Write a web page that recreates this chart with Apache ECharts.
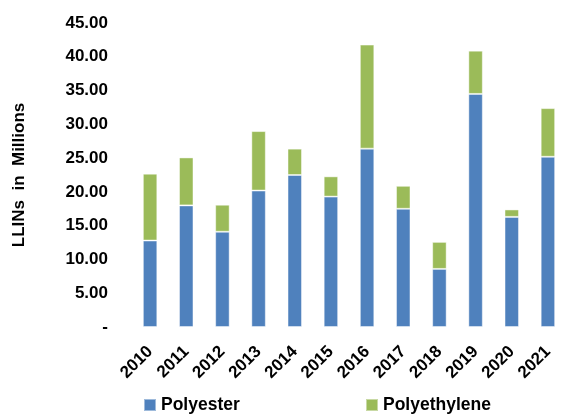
<!DOCTYPE html>
<html>
<head>
<meta charset="utf-8">
<script src="https://cdn.jsdelivr.net/npm/echarts@6/dist/echarts.min.js"></script>
<style>
  html, body { margin: 0; padding: 0; background: #fff; }
  #chart { width: 566px; height: 415px; }
</style>
</head>
<body>
<div id="chart"></div>
<script>
// LLIN deliveries by net material, millions of nets per year
const years = ['2010', '2011', '2012', '2013', '2014', '2015', '2016', '2017', '2018', '2019', '2020', '2021'];
const polyester = [12.8, 18.0, 14.1, 20.2, 22.5, 19.3, 26.4, 17.5, 8.6, 34.5, 16.3, 25.2];
const polyethylene = [9.9, 7.1, 4.0, 8.8, 3.9, 3.0, 15.4, 3.4, 4.0, 6.4, 1.1, 7.2];
const yTicks = [0, 5, 10, 15, 20, 25, 30, 35, 40, 45];

const FONT = "'Liberation Sans', Arial, Helvetica, sans-serif";
const BLUE = '#4F81BD';
const GREEN = '#9BBB59';

const chart = echarts.init(document.getElementById('chart'), null, { renderer: 'canvas' });

const barStyle = (color) => ({
  color: color,
  borderColor: 'rgba(255,255,255,0.45)',
  borderWidth: 1
});

const legendText = { fontFamily: FONT, fontWeight: 'bold', fontSize: 17.5, color: '#000' };

chart.setOption({
  animation: false,
  backgroundColor: '#ffffff',
  textStyle: { fontFamily: FONT },
  grid: { left: 132, right: -13, top: 23, bottom: 88, containLabel: false },
  legend: [
    {
      data: ['Polyester'],
      left: 143, top: 396,
      padding: 0,
      itemWidth: 12, itemHeight: 12, itemGap: 0,
      icon: 'rect',
      textStyle: legendText
    },
    {
      data: ['Polyethylene'],
      left: 365, top: 396,
      padding: 0,
      itemWidth: 12, itemHeight: 12, itemGap: 0,
      icon: 'rect',
      textStyle: legendText
    }
  ],
  xAxis: {
    type: 'category',
    data: years,
    axisLine: { show: false },
    axisTick: { show: false },
    axisLabel: {
      rotate: 45,
      margin: 22,
      interval: 0,
      fontFamily: FONT,
      fontWeight: 'bold',
      fontSize: 17,
      color: '#000'
    }
  },
  yAxis: {
    type: 'value',
    min: yTicks[0],
    max: yTicks[yTicks.length - 1],
    interval: 5,
    name: 'LLINs  in  Millions',
    nameLocation: 'middle',
    nameRotate: 90,
    nameGap: 104,
    nameTextStyle: { fontFamily: FONT, fontWeight: 'bold', fontSize: 17, color: '#000' },
    axisLine: { show: false },
    axisTick: { show: false },
    splitLine: { show: false },
    axisLabel: {
      margin: 24,
      fontFamily: FONT,
      fontWeight: 'bold',
      fontSize: 17,
      color: '#000',
      formatter: (v) => (v === 0 ? '-' : v.toFixed(2))
    }
  },
  series: [
    {
      name: 'Polyester',
      type: 'bar',
      stack: 'total',
      barWidth: '40%',
      data: polyester,
      itemStyle: barStyle(BLUE)
    },
    {
      name: 'Polyethylene',
      type: 'bar',
      stack: 'total',
      barWidth: '40%',
      data: polyethylene,
      itemStyle: barStyle(GREEN)
    }
  ]
});
</script>
</body>
</html>
